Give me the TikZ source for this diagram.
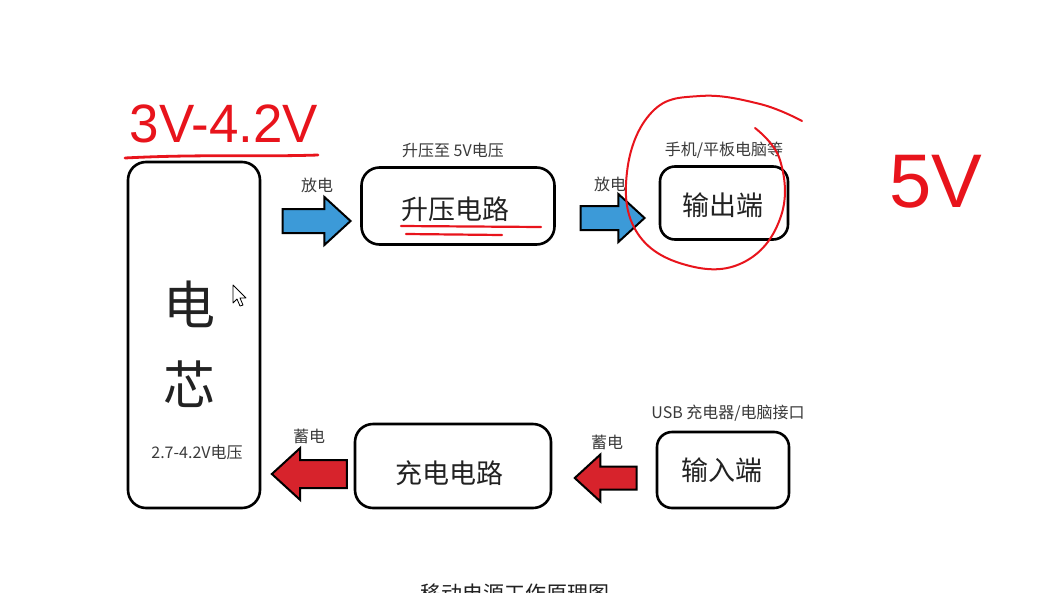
\documentclass[tikz,border=0pt]{standalone}
\usepackage{fontspec}
\setmainfont{Liberation Sans}
\newfontfamily\cjk{Noto Sans CJK SC}
\usetikzlibrary{shapes.arrows}
\definecolor{txt}{HTML}{222222}
\definecolor{lbl}{HTML}{3A3A3A}
\definecolor{bluearrow}{HTML}{3C9AD8}
\definecolor{redarrow}{HTML}{D7232C}
\definecolor{pen}{HTML}{E8141C}
\tikzset{
  box/.style={draw=black, line width=2.6pt, rounded corners=18pt, fill=white},
  big/.style={font=\cjk\fontsize{27}{30}\selectfont, text=txt},
  small/.style={font=\cjk\fontsize{16}{18}\selectfont, text=lbl},
  blockarrow/.style={single arrow, draw=black, line width=2pt, inner sep=0pt,
     single arrow head extend=12pt, single arrow tip angle=85, anchor=center},
  ink/.style={draw=pen, line width=2.6pt, line cap=round, line join=round},
  handtext/.style={text=pen, inner sep=0pt}
}
\begin{document}
\begin{tikzpicture}[x=1pt,y=-1pt]
\useasboundingbox (0,0) rectangle (1063,592);
\clip (0,0) rectangle (1063,592);
\fill[white] (0,0) rectangle (1063,592);

% boxes
\node[box, minimum width=132pt, minimum height=346pt] (bat) at (194,335) {};
\node[font=\cjk\fontsize{52}{56}\selectfont, text=txt] (bat1) at (189,304) {电};
\node[font=\cjk\fontsize{52}{56}\selectfont, text=txt] (bat2) at (189,384) {芯};
\node[small] (batv) at (197,452) {2.7-4.2V电压};

\node[box, minimum width=193pt, minimum height=77pt] (boost) at (458,206) {};
\node[big] (boostt) at (455,209) {升压电路};
\node[small] (boostl) at (453,150) {升压至 5V电压};

\node[box, minimum width=128pt, minimum height=73pt, rounded corners=15pt] (out) at (724,203) {};
\node[big] (outt) at (723,205) {输出端};
\node[small] (outl) at (724,150) {手机/平板电脑等};

\node[box, minimum width=196pt, minimum height=84pt] (charge) at (453,466) {};
\node[big] (charget) at (449,473) {充电电路};

\node[box, minimum width=132pt, minimum height=76pt, rounded corners=15pt] (in) at (723,470) {};
\node[big] (int) at (722,470) {输入端};
\node[small] (inl) at (728,413) {USB 充电器/电脑接口};

% block arrows
\node[blockarrow, fill=bluearrow, minimum height=68pt, minimum width=46pt] (a1) at (310,221) {\rule{0pt}{22pt}};
\node[small] (a1l) at (317,185) {放电};
\node[blockarrow, fill=bluearrow, minimum height=64pt, minimum width=46pt] (a2) at (606,218) {\rule{0pt}{22pt}};
\node[small] (a2l) at (610,184) {放电};

\node[blockarrow, fill=redarrow, shape border rotate=180, minimum height=75pt, minimum width=52pt] (a3) at (317,474) {\rule{0pt}{26pt}};
\node[small] (a3l) at (309,436) {蓄电};
\node[blockarrow, fill=redarrow, shape border rotate=180, minimum height=62pt, minimum width=40pt] (a4) at (612,478) {\rule{0pt}{21pt}};
\node[small] (a4l) at (607,442) {蓄电};

% caption (cut off at the bottom, as in the source)
\node[font=\cjk\fontsize{21}{24}\selectfont, text=txt] (cap) at (515,594) {移动电源工作原理图};

% mouse cursor
\draw[black, line width=0.8pt, fill=white, line join=round]
  (233,285) -- (233,303) -- (237,299) -- (240,306) -- (243,305) -- (240,298) -- (246,298) -- cycle;

% red handwritten annotations
\node[handtext, font=\fontsize{54}{58}\selectfont, xscale=0.98] (h1) at (224,124) {3V-4.2V};
\draw[ink, line width=2.8pt] (125,158) .. controls (200,154) and (260,157) .. (318,155);
\node[handtext, font=\fontsize{76}{80}\selectfont] (h2) at (936,182) {5V};
\draw[ink, line width=2.2pt] (401,226) -- (541,227);
\draw[ink, line width=2.2pt] (406,234) -- (502,235);
\draw[ink, line width=2pt] plot[smooth, tension=0.7] coordinates
  {(802,121) (760,104) (700,96) (652,112) (627,172) (638,234) (690,266) (746,261) (781,216) (780,160) (755,128)};
\end{tikzpicture}
\end{document}
